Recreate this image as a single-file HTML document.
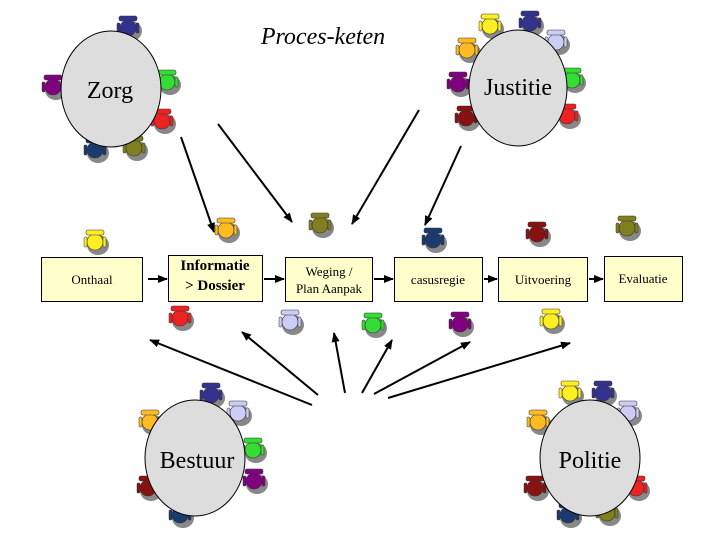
<!DOCTYPE html>
<html><head><style>body{margin:0;background:#fff}svg{display:block}</style></head><body>
<svg width="720" height="540" viewBox="0 0 720 540" xmlns="http://www.w3.org/2000/svg" font-family="Liberation Serif, serif">
<defs>
<marker id="a" markerWidth="10" markerHeight="8" refX="9" refY="4" orient="auto" markerUnits="userSpaceOnUse"><path d="M0,0 L10,4 L0,8 z" fill="#000"/></marker>
<g id="ch"><ellipse cx="3" cy="3" rx="11" ry="10" fill="#888"/><circle cx="0" cy="0" r="8" fill="currentColor" stroke="#333" stroke-width="0.6"/><rect x="-9" y="-12" width="18" height="5" rx="2" fill="currentColor" stroke="#333" stroke-width="0.6"/><rect x="-11" y="-5" width="3" height="10" rx="1" fill="currentColor" stroke="#333" stroke-width="0.5"/><rect x="8" y="-5" width="3" height="10" rx="1" fill="currentColor" stroke="#333" stroke-width="0.5"/></g>
</defs>
<text x="323" y="44" font-size="24" font-style="italic" text-anchor="middle">Proces-keten</text>

<!-- chairs -->
<g>
<use href="#ch" x="128" y="28" color="#33338f" transform="rotate(0)"/>
<use href="#ch" x="53" y="87" color="#800080"/>
<use href="#ch" x="167" y="82" color="#33dd33"/>
<use href="#ch" x="162" y="121" color="#ee2222"/>
<use href="#ch" x="134" y="148" color="#808020"/>
<use href="#ch" x="95" y="150" color="#1a3a70"/>

<use href="#ch" x="490" y="26" color="#ffee22"/>
<use href="#ch" x="467" y="50" color="#ffbb22"/>
<use href="#ch" x="530" y="23" color="#33338f"/>
<use href="#ch" x="556" y="42" color="#ccccf5"/>
<use href="#ch" x="572" y="80" color="#33dd33"/>
<use href="#ch" x="458" y="84" color="#800080"/>
<use href="#ch" x="466" y="118" color="#881111"/>
<use href="#ch" x="567" y="116" color="#ee2222"/>

<use href="#ch" x="95" y="242" color="#ffee22"/>
<use href="#ch" x="226" y="230" color="#ffbb22"/>
<use href="#ch" x="320" y="225" color="#808020"/>
<use href="#ch" x="433" y="240" color="#1a3a70"/>
<use href="#ch" x="537" y="234" color="#881111"/>
<use href="#ch" x="627" y="228" color="#808020"/>
<use href="#ch" x="180" y="318" color="#ee2222"/>
<use href="#ch" x="290" y="322" color="#ccccf5"/>
<use href="#ch" x="373" y="325" color="#33dd33"/>
<use href="#ch" x="460" y="324" color="#800080"/>
<use href="#ch" x="551" y="321" color="#ffee22"/>

<use href="#ch" x="211" y="395" color="#33338f"/>
<use href="#ch" x="238" y="413" color="#ccccf5"/>
<use href="#ch" x="150" y="422" color="#ffbb22"/>
<use href="#ch" x="253" y="450" color="#33dd33"/>
<use href="#ch" x="254" y="481" color="#800080"/>
<use href="#ch" x="148" y="488" color="#881111"/>
<use href="#ch" x="180" y="515" color="#1a3a70"/>

<use href="#ch" x="570" y="393" color="#ffee22"/>
<use href="#ch" x="603" y="393" color="#33338f"/>
<use href="#ch" x="628" y="413" color="#ccccf5"/>
<use href="#ch" x="538" y="422" color="#ffbb22"/>
<use href="#ch" x="636" y="488" color="#ee2222"/>
<use href="#ch" x="535" y="488" color="#881111"/>
<use href="#ch" x="568" y="515" color="#1a3a70"/>
<use href="#ch" x="607" y="513" color="#808020"/>
</g>

<!-- tables -->
<g fill="#dddddd" stroke="#000" stroke-width="1">
<ellipse cx="111" cy="89" rx="50" ry="58"/>
<ellipse cx="518" cy="88" rx="49" ry="58"/>
<ellipse cx="195" cy="458" rx="50" ry="58"/>
<ellipse cx="590" cy="458" rx="50" ry="58"/>
</g>
<g font-size="24" text-anchor="middle">
<text x="110" y="98">Zorg</text>
<text x="518" y="95">Justitie</text>
<text x="197" y="468">Bestuur</text>
<text x="590" y="468">Politie</text>
</g>

<!-- boxes -->
<g fill="#ffffcc" stroke="#000" stroke-width="1">
<rect x="41.5" y="257.5" width="101" height="44"/>
<rect x="168.5" y="255.5" width="94" height="46"/>
<rect x="285.5" y="257.5" width="87" height="44"/>
<rect x="394.5" y="257.5" width="88" height="44"/>
<rect x="498.5" y="257.5" width="89" height="44"/>
<rect x="604.5" y="256.5" width="78" height="45"/>
</g>
<g font-size="13" text-anchor="middle">
<text x="92" y="284">Onthaal</text>
<text x="215" y="270" font-size="15" font-weight="bold">Informatie</text>
<text x="215" y="290" font-size="15" font-weight="bold">&gt; Dossier</text>
<text x="329" y="276">Weging /</text>
<text x="329" y="293">Plan Aanpak</text>
<text x="438" y="284">casusregie</text>
<text x="543" y="284">Uitvoering</text>
<text x="643" y="283">Evaluatie</text>
</g>

<!-- arrows -->
<g stroke="#000" stroke-width="2" fill="none" marker-end="url(#a)">
<line x1="148" y1="279" x2="167" y2="279"/>
<line x1="264" y1="279" x2="284" y2="279"/>
<line x1="374" y1="279" x2="393" y2="279"/>
<line x1="484" y1="279" x2="497" y2="279"/>
<line x1="589" y1="279" x2="603" y2="279"/>
<line x1="181" y1="137" x2="214" y2="232"/>
<line x1="218" y1="124" x2="292" y2="222"/>
<line x1="419" y1="110" x2="352" y2="224"/>
<line x1="461" y1="146" x2="425" y2="225"/>
<line x1="312" y1="405" x2="150" y2="340"/>
<line x1="318" y1="395" x2="242" y2="332"/>
<line x1="345" y1="393" x2="334" y2="333"/>
<line x1="362" y1="393" x2="392" y2="340"/>
<line x1="374" y1="394" x2="470" y2="342"/>
<line x1="388" y1="398" x2="570" y2="343"/>
</g>
</svg>
</body></html>
